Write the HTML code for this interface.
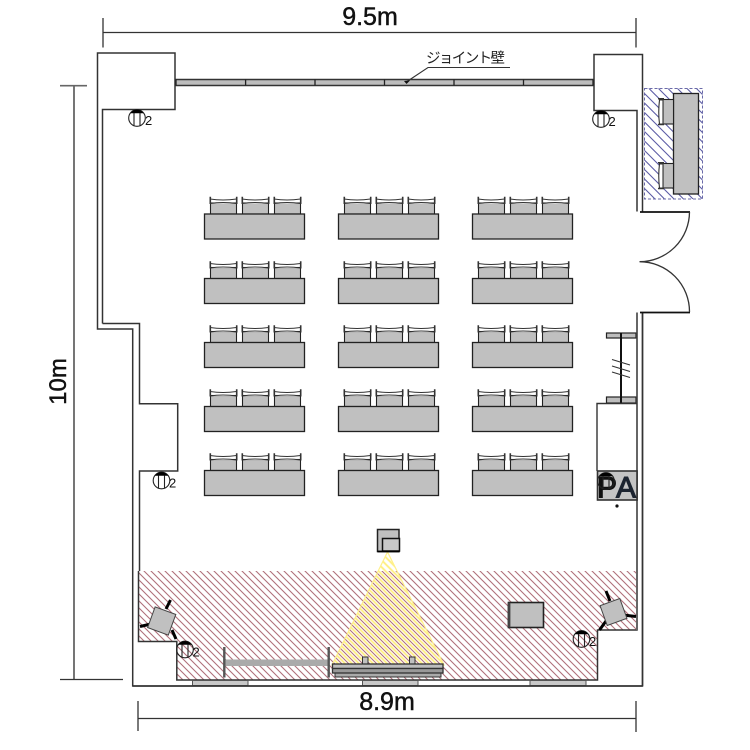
<!DOCTYPE html>
<html><head><meta charset="utf-8">
<style>html,body{margin:0;padding:0;background:#fff}svg{display:block}text{font-family:"Liberation Sans","Noto Sans CJK JP",sans-serif;fill:#111}.big{stroke:#111;stroke-width:.45}</style>
</head><body>
<svg width="750" height="750" viewBox="0 0 750 750" xmlns="http://www.w3.org/2000/svg">
<defs>
<pattern id="red" width="7" height="7" patternUnits="userSpaceOnUse"><path d="M-1 -1L8 8M-8 -1L1 8M6 -1L15 8" stroke="#b0707a" stroke-width="1.100"/></pattern>
<pattern id="blue" width="9.500" height="9.500" patternUnits="userSpaceOnUse"><path d="M-1 -1L10.500 10.500M-10.500 -1L1 10.500M8.500 -1L20 10.500" stroke="#5c5ca6" stroke-width="1.100"/></pattern>
<pattern id="yel" width="7" height="7" patternUnits="userSpaceOnUse" patternTransform="translate(3.500 0)"><path d="M-1 -1L8 8M-8 -1L1 8M6 -1L15 8" stroke="#fff08a" stroke-width="2"/></pattern>
<g id="chair">
<rect x="0.500" y="5.500" width="26" height="11" fill="#c0c0c0" stroke="#222" stroke-width="1.100"/>
<path d="M0 1.500Q13 3.500 26.500 1.500M0 6Q13 4 26.500 6" fill="#fff" stroke="#333" stroke-width="1.100"/>
<path d="M0.300 -0.800V6.500M26.700 -0.800V6.500" stroke="#333" stroke-width="1.600"/>
</g>
<g id="set">
<use href="#chair" x="6" y="-16"/><use href="#chair" x="38" y="-16"/><use href="#chair" x="70" y="-16"/>
<rect x="0.500" y="0.500" width="100" height="25" fill="#c0c0c0" stroke="#222" stroke-width="1.300"/>
</g>
<g id="spk">
<circle cx="0" cy="0" r="8.300" fill="none" stroke="#222" stroke-width="1.100"/>
<path d="M-6.800 -4.800A8.300 8.300 0 0 1 6.800 -4.800Z" fill="#000"/>
<path d="M-3 -5V7.800M3 -5V7.800" stroke="#222" stroke-width="1.100"/>
</g>
</defs>

<!-- hatch zones -->
<rect x="138.500" y="571" width="498" height="109" fill="url(#red)"/>
<rect x="138" y="641.500" width="38.500" height="40" fill="#fff"/>
<rect x="597.500" y="630" width="40" height="51" fill="#fff"/>
<path d="M387.500 552L332 665H444Z" fill="url(#yel)" stroke="#fff08a" stroke-width="1.200"/>
<rect x="644.500" y="88.500" width="58" height="110.500" fill="url(#blue)" stroke="#6a6aa8" stroke-width="1" stroke-dasharray="3 2"/>

<!-- walls -->
<g fill="none" stroke="#333" stroke-width="1.500">
<path d="M102.500 323.500V109.500H175V53H97.500V329H132.700V686H642.500V312.500"/>
<path d="M102.500 323.500H139.500V403.800H177.700V471H139.500V571"/>
<path d="M138.500 571V641.500H176.800V680H597.500V630H637V571"/>
<path d="M642.500 211.500V54.500H594V110.500H637V211.500"/>
</g>
<path d="M637 312.500V630" stroke="#666" stroke-width="2" fill="none"/>
<path d="M642.500 312.500V686" stroke="#333" stroke-width="1.500" fill="none"/>
<path d="M640 212H690M640 312.500H690" stroke="#111" stroke-width="1.800"/>
<path d="M689.500 212A50 50 0 0 1 639.500 261.700A50 50 0 0 1 689.500 312" fill="none" stroke="#333" stroke-width="1.300"/>

<!-- joint wall -->
<rect x="175.500" y="79.500" width="418" height="6" fill="#bdbdbd" stroke="#333" stroke-width="1.500"/>
<path d="M176 79.500V85.500M245.600 79.500V85.500M315 79.500V85.500M384.500 79.500V85.500M454 79.500V85.500M523.500 79.500V85.500M593 79.500V85.500" stroke="#222" stroke-width="1.300"/>
<path d="M510 67.500H428L407 81.500" fill="none" stroke="#333" stroke-width="1.100"/>
<path d="M404 81L410 80.500L406.500 84Z" fill="#111"/>
<text x="426" y="63" font-size="14.500" textLength="79" style="fill:#222">ジョイント壁</text>

<!-- dimensions -->
<g stroke="#333" stroke-width="1.300" fill="none">
<path d="M103 32.500H636M103 18V47.500M636 18V47.500"/>
<path d="M74 86V679" stroke="#666" stroke-width="1.800"/>
<path d="M60 85.700H87" stroke="#666" stroke-width="1.600"/>
<path d="M60 679.500H123"/>
<path d="M138 718.500H636M138 701V731M636 701V732"/>
</g>
<text class="big" x="370" y="25" font-size="25" text-anchor="middle">9.5m</text>
<text class="big" x="387" y="710" font-size="25" text-anchor="middle">8.9m</text>
<text class="big" transform="translate(66 381.500) rotate(-90)" font-size="24" text-anchor="middle">10m</text>

<!-- tables -->
<use href="#set" x="204" y="213.500"/><use href="#set" x="338" y="213.500"/><use href="#set" x="472" y="213.500"/>
<use href="#set" x="204" y="278"/><use href="#set" x="338" y="278"/><use href="#set" x="472" y="278"/>
<use href="#set" x="204" y="342"/><use href="#set" x="338" y="342"/><use href="#set" x="472" y="342"/>
<use href="#set" x="204" y="406"/><use href="#set" x="338" y="406"/><use href="#set" x="472" y="406"/>
<use href="#set" x="204" y="470"/><use href="#set" x="338" y="470"/><use href="#set" x="472" y="470"/>

<!-- reception table, right -->
<rect x="673.500" y="93.500" width="25" height="100.500" fill="#c0c0c0" stroke="#222" stroke-width="1.300"/>
<g fill="#c0c0c0" stroke="#222" stroke-width="1.100">
<rect x="663" y="99.500" width="10.500" height="24.500"/><rect x="663" y="163.500" width="10.500" height="24.500"/>
</g>
<path d="M659.500 100Q658 112 659.500 124H663V100ZM659.500 164Q658 176 659.500 188H663V164Z" fill="#fff" stroke="#333" stroke-width="1.100"/>
<path d="M658 98.800H664M658 124.500H664M658 162.800H664M658 188.500H664" stroke="#333" stroke-width="1.500"/>

<!-- rack, PA -->
<rect x="606.500" y="333" width="29.500" height="5" fill="#bdbdbd" stroke="#222" stroke-width="1.200"/>
<rect x="606.500" y="397" width="29.500" height="6" fill="#bdbdbd" stroke="#222" stroke-width="1.200"/>
<path d="M621 333V403" stroke="#111" stroke-width="2"/>
<path d="M612 359.500L630 365M612 366L630 371.500M612 372L630 377.500" stroke="#333" stroke-width="1.100"/>
<path d="M597 471V403.500H637" fill="none" stroke="#333" stroke-width="1.400"/>
<rect x="597.500" y="471" width="39.500" height="29" fill="#c4c4c4" stroke="#333" stroke-width="1.600"/>
<text x="597" y="497.500" font-size="30" style="fill:#111;stroke:#111;stroke-width:1.100">P</text>
<text x="616" y="497.500" font-size="30" style="fill:#1c2430;stroke:#1c2430;stroke-width:1.100">A</text>
<use href="#spk" x="606" y="481"/>
<circle cx="617" cy="506" r="1.600" fill="#111"/>

<!-- projector -->
<rect x="377.500" y="529.500" width="21.500" height="22" fill="#c0c0c0" stroke="#222" stroke-width="1.500"/>
<rect x="382.500" y="538.500" width="17" height="12.500" fill="#c8c8c8" stroke="#111" stroke-width="1.500"/>
<path d="M377.500 551.500H399.500" stroke="#000" stroke-width="1.800"/>

<!-- screen -->
<rect x="362.500" y="657" width="5.500" height="7" fill="#c0c0c0" stroke="#333"/>
<rect x="409.500" y="657" width="5.500" height="7" fill="#c0c0c0" stroke="#333"/>
<rect x="335" y="672" width="106" height="5" fill="#aaa" stroke="#333"/>
<rect x="332.500" y="664" width="110.500" height="4.500" fill="#bdbdbd" stroke="#333" stroke-width="1.300"/>
<rect x="332.500" y="668.500" width="110.500" height="4.500" fill="#999" stroke="#333" stroke-width="1.300"/>

<!-- lectern bar -->
<rect x="225" y="659.500" width="103" height="6.500" fill="#aaa"/>
<path d="M224.300 647V677.500M328.700 647V677.500" stroke="#555" stroke-width="2.400"/>

<!-- windows bottom -->
<g fill="#c8c8c8" stroke="#555" stroke-width="1">
<rect x="192.500" y="680.500" width="55.500" height="5"/>
<rect x="362.500" y="680.500" width="55.500" height="5"/>
<rect x="530" y="680.500" width="56" height="5"/>
</g>
<path d="M133 686H642.500" stroke="#333" stroke-width="1.500"/>

<!-- big box -->
<rect x="508.500" y="602.500" width="35" height="25" fill="#c0c0c0" stroke="#222" stroke-width="1.600"/>
<path d="M509 602.500V627.500" stroke="#444" stroke-width="2.800"/>

<!-- cameras -->
<g stroke="#000" stroke-width="3">
<path d="M166 609L170.500 600M172 630L176 639M151 624L140 626.500"/>
<path d="M610 601L606 591M623 615L636 616.500M606 621L599.500 630"/>
</g>
<rect x="-11" y="-11" width="22" height="22" transform="translate(161.700 621) rotate(20)" fill="#c0c0c0" stroke="#444" stroke-width="1"/>
<rect x="-10.500" y="-10.500" width="21" height="21" transform="translate(613.500 612) rotate(-20)" fill="#c0c0c0" stroke="#444" stroke-width="1"/>

<!-- speakers -->
<use href="#spk" x="137" y="118"/><text x="145" y="125" font-size="13">2</text>
<use href="#spk" x="601" y="119"/><text x="608.500" y="126" font-size="13">2</text>
<use href="#spk" x="161.500" y="480.500"/><text x="169" y="487.500" font-size="13">2</text>
<use href="#spk" x="185" y="649.500"/><text x="192.500" y="656.500" font-size="13">2</text>
<use href="#spk" x="581.500" y="639"/><text x="589" y="646" font-size="13">2</text>
</svg>
</body></html>
